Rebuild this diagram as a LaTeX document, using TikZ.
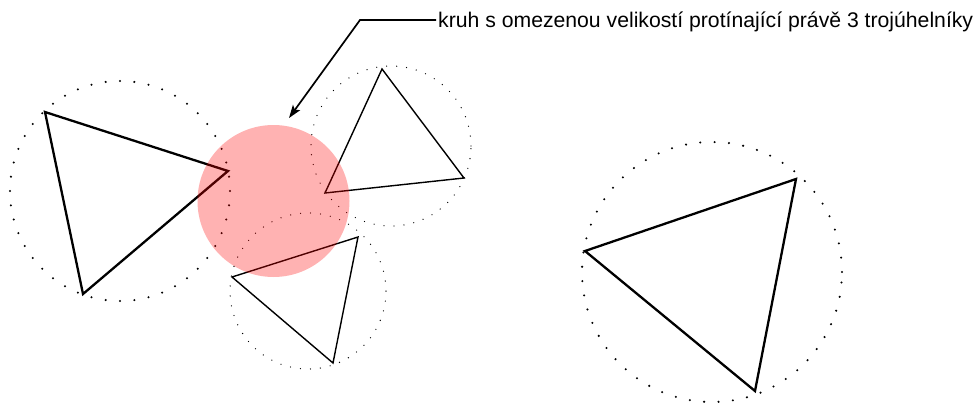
\documentclass[tikz,border=0pt]{standalone}
\usepackage{fontspec}
\setmainfont{Liberation Sans}
\usepackage{tikz}
\usetikzlibrary{arrows.meta,positioning}

\begin{document}
\begin{tikzpicture}[
  x=1pt, y=-1pt,
  tri/.style={draw=black, line width=2.3pt, line join=miter},
  smalltri/.style={draw=black, line width=1.4pt, line join=miter},
  bigring/.style={draw=black, line width=2.3pt, line cap=round, dash pattern=on 0pt off 14.4pt},
  smallring/.style={draw=black, line width=1.3pt, line cap=round, dash pattern=on 0pt off 10pt},
  blob/.style={fill=red, fill opacity=0.3},
  arr/.style={-{Stealth[length=13pt,width=9pt,inset=3pt]}, line width=1.7pt},
  note/.style={anchor=base west, inner sep=0pt, font=\fontsize{21.2}{25}\selectfont}
]
\useasboundingbox (0,0) rectangle (978,405);

% centres of the rings
\coordinate (cA) at (120,191);
\coordinate (cB) at (391,146);
\coordinate (cC) at (308,291);
\coordinate (cD) at (712,272);
\coordinate (cHit) at (273.5,201);

% triangle corners
\coordinate (a1) at (45,112);
\coordinate (a2) at (83,294);
\coordinate (a3) at (228,171);
\coordinate (b1) at (382,69);
\coordinate (b2) at (464,178);
\coordinate (b3) at (325,193);
\coordinate (c1) at (358,237);
\coordinate (c2) at (232,277);
\coordinate (c3) at (333,363);
\coordinate (d1) at (796,179);
\coordinate (d2) at (585,251);
\coordinate (d3) at (755,391);

% dotted rings
\draw[bigring] (cA) circle[radius=110pt];
\draw[smallring] (cB) circle[radius=80pt];
\draw[smallring] (cC) circle[radius=78pt];
\draw[bigring] (cD) circle[radius=130pt];

% triangles
\draw[tri] (a1) -- (a2) -- (a3) -- cycle;
\draw[smalltri] (b1) -- (b2) -- (b3) -- cycle;
\draw[smalltri] (c1) -- (c2) -- (c3) -- cycle;
\draw[tri] (d1) -- (d2) -- (d3) -- cycle;

% query circle
\fill[blob] (cHit) circle[radius=76pt];

% label
\node[note] (label) at (438,27) {kruh s omezenou velikostí protínající právě 3 trojúhelníky};
\coordinate (bend) at (360,20);
\coordinate (tip) at (289,118);
\draw[arr] ([xshift=-2pt]label.west |- bend) -- (bend) -- (tip);
\end{tikzpicture}
\end{document}
